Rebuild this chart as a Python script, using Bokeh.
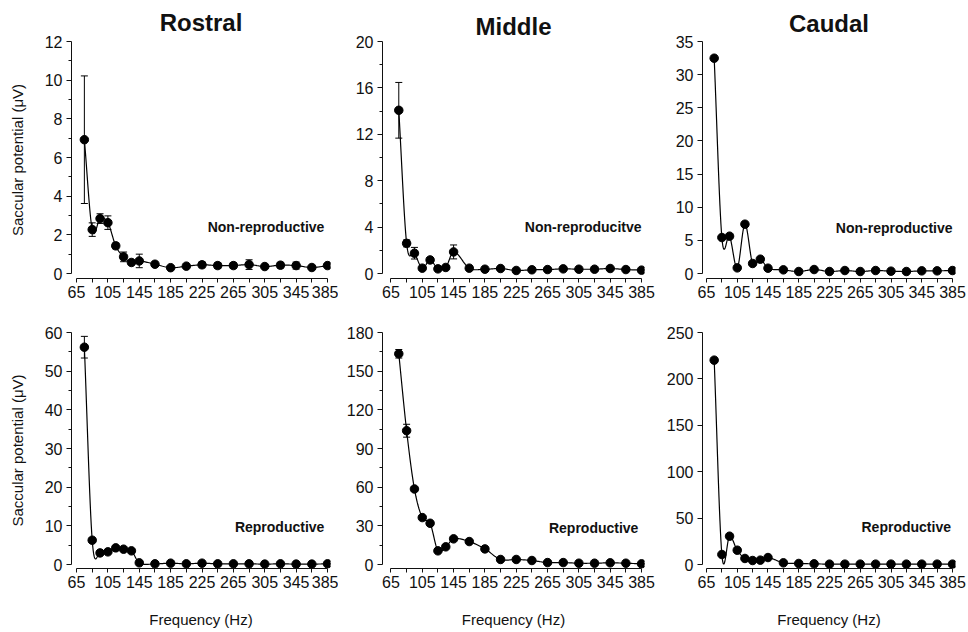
import numpy as np
from bokeh.plotting import figure
from bokeh.layouts import column, row
from bokeh.models import FixedTicker, Whisker, ColumnDataSource, Label, TeeHead, Range1d
from bokeh.embed import file_html
from bokeh.resources import INLINE

# ---------------- data ----------------
freq = [75, 85, 95, 105, 115, 125, 135, 145, 165, 185, 205, 225, 245, 265, 285, 305, 325, 345, 365, 385]

rostral_nr = [6.92, 2.27, 2.84, 2.63, 1.43, 0.86, 0.57, 0.65, 0.48, 0.30, 0.38, 0.45, 0.41, 0.41, 0.46, 0.36, 0.43, 0.41, 0.31, 0.41]
rostral_nr_se = [3.30, 0.35, 0.25, 0.35, 0.15, 0.25, 0.12, 0.35, 0.12, 0.10, 0.05, 0.15, 0.15, 0.15, 0.25, 0.05, 0.15, 0.18, 0.05, 0.08]

middle_nr = [14.07, 2.60, 1.75, 0.46, 1.17, 0.40, 0.52, 1.86, 0.46, 0.37, 0.43, 0.26, 0.32, 0.34, 0.40, 0.37, 0.37, 0.43, 0.34, 0.29]
middle_nr_se = [2.40, 0.30, 0.50, 0.10, 0.20, 0.10, 0.10, 0.60, 0.10, 0.05, 0.05, 0.05, 0.05, 0.05, 0.05, 0.05, 0.05, 0.05, 0.05, 0.05]

caudal_nr = [32.48, 5.43, 5.63, 0.85, 7.44, 1.51, 2.16, 0.80, 0.55, 0.30, 0.60, 0.30, 0.45, 0.30, 0.45, 0.35, 0.30, 0.40, 0.40, 0.45]
caudal_nr_se = [0] * 20

rostral_r = [56.2, 6.28, 3.00, 3.27, 4.30, 3.96, 3.53, 0.43, 0.17, 0.34, 0.17, 0.34, 0.17, 0.17, 0.17, 0.10, 0.17, 0.10, 0.10, 0.17]
rostral_r_se = [2.8, 0.5, 0.4, 0.4, 0.4, 0.3, 0.3, 0.1, 0.05, 0.05, 0.05, 0.05, 0.05, 0.05, 0.05, 0.05, 0.05, 0.05, 0.05, 0.05]

middle_r = [163.5, 103.8, 58.6, 36.4, 32.0, 10.6, 13.7, 19.9, 17.8, 12.1, 3.9, 3.9, 3.1, 1.5, 1.5, 1.0, 1.0, 1.3, 1.0, 0.5]
middle_r_se = [3.3, 5.0, 1.5, 1.0, 1.0, 1.0, 1.0, 1.0, 1.0, 1.0, 0.5, 0.5, 0.5, 0.3, 0.3, 0.2, 0.2, 0.2, 0.2, 0.1]

caudal_r = [220.2, 10.8, 30.5, 15.4, 6.5, 4.3, 4.7, 7.5, 1.8, 1.1, 0.7, 0.4, 0.4, 0.4, 0.4, 0.4, 0.4, 0.4, 0.4, 0.4]
caudal_r_se = [0] * 20

x_major = [65, 105, 145, 185, 225, 265, 305, 345, 385]
x_minor = [85, 125, 165, 205, 245, 285, 325, 365]

titles = ["Rostral", "Middle", "Caudal"]
notes_top = ["Non-reproductive", "Non-reproducitve", "Non-reproductive"]
notes_bottom = ["Reproductive", "Reproductive", "Reproductive"]

FONT = "Liberation Sans"


def smooth(xs, ys, n=16):
    """Cubic Hermite (Catmull-Rom style) curve through the data points for the connecting line."""
    xs = np.asarray(xs, float)
    ys = np.asarray(ys, float)
    m = np.zeros_like(ys)
    m[0] = (ys[1] - ys[0]) / (xs[1] - xs[0])
    m[-1] = (ys[-1] - ys[-2]) / (xs[-1] - xs[-2])
    m[1:-1] = (ys[2:] - ys[:-2]) / (xs[2:] - xs[:-2])
    ox, oy = [], []
    for i in range(len(xs) - 1):
        h = xs[i + 1] - xs[i]
        t = np.linspace(0, 1, n, endpoint=False)
        h00 = 2 * t**3 - 3 * t**2 + 1
        h10 = t**3 - 2 * t**2 + t
        h01 = -2 * t**3 + 3 * t**2
        h11 = t**3 - t**2
        ox.extend(xs[i] + t * h)
        oy.extend(h00 * ys[i] + h10 * h * m[i] + h01 * ys[i + 1] + h11 * h * m[i + 1])
    ox.append(xs[-1])
    oy.append(ys[-1])
    return ox, oy


# column geometry: (fig width, border left, border right, x_start, x_end)
cols = [
    (338, 71, 8, 58.6, 388.8),
    (320, 44, 14, 54.2, 388.8),
    (309, 44, 12, 59.8, 388.9),
]


def panel(ci, top, ys, se, ymax, ystep, yminor_step, note, note_x, note_y, title_standoff=6):
    width, bl, br, xs0, xs1 = cols[ci]
    if top:
        height, bt, bb = 306, 41, 28
        y0 = -5 / 232 * ymax
    else:
        height, bt, bb = 324, 26, 62
        y0 = -4 / 232 * ymax
    p = figure(width=width, height=height, output_backend="svg", toolbar_location=None,
               x_range=Range1d(xs0, xs1), y_range=Range1d(y0, ymax),
               min_border_left=bl, min_border_right=br, min_border_top=bt, min_border_bottom=bb,
               title=titles[ci] if top else None)
    p.outline_line_color = None
    p.grid.visible = False
    p.background_fill_color = "white"
    p.border_fill_color = "white"

    if top:
        p.title.text_font = FONT
        p.title.text_font_size = "24px"
        p.title.text_font_style = "bold"
        p.title.align = "center"
        p.title.text_color = "#111111"
        p.title.standoff = title_standoff

    # axes
    ymaj = list(np.arange(0, ymax + 1e-9, ystep))
    ymin = [] if yminor_step is None else [v for v in np.arange(0, ymax + 1e-9, yminor_step) if all(abs(v - q) > 1e-9 for q in ymaj)]
    p.yaxis.ticker = FixedTicker(ticks=ymaj, minor_ticks=ymin)
    p.yaxis.bounds = (0, ymax)
    p.xaxis.ticker = FixedTicker(ticks=x_major, minor_ticks=x_minor)
    p.xaxis.bounds = (65, 385)
    for ax in (p.xaxis[0], p.yaxis[0]):
        ax.axis_line_color = "#111111"
        ax.axis_line_width = 1
        ax.major_tick_line_color = "#111111"
        ax.minor_tick_line_color = "#111111"
        ax.major_tick_in = 0
        ax.minor_tick_in = 0
        ax.major_label_text_font = FONT
        ax.major_label_text_font_size = "16px"
        ax.major_label_text_color = "#111111"
        ax.axis_label_text_font = FONT
        ax.axis_label_text_font_size = "15px"
        ax.axis_label_text_font_style = "normal"
        ax.axis_label_text_color = "#111111"
    p.yaxis.major_tick_out = 5
    p.yaxis.minor_tick_out = 3
    p.yaxis.major_label_standoff = 4
    p.xaxis.major_tick_out = 4
    p.xaxis.minor_tick_out = 4
    p.xaxis.major_label_standoff = 3
    if ci == 0:
        p.yaxis.axis_label = "Saccular potential (μV)"
        p.yaxis.axis_label_standoff = 16
    if not top:
        p.xaxis.axis_label = "Frequency (Hz)"
        p.xaxis.axis_label_standoff = 20

    # line
    sx, sy = smooth(freq, ys)
    p.line(sx, sy, line_color="black", line_width=1.2)

    # error bars
    idx = [i for i, e in enumerate(se) if e > 0]
    if idx:
        src = ColumnDataSource(dict(x=[freq[i] for i in idx],
                                    upper=[ys[i] + se[i] for i in idx],
                                    lower=[ys[i] - se[i] for i in idx]))
        w = Whisker(base="x", upper="upper", lower="lower", source=src,
                    line_color="black", line_width=1,
                    upper_head=TeeHead(size=7, line_color="black", line_width=1),
                    lower_head=TeeHead(size=7, line_color="black", line_width=1))
        p.add_layout(w)

    p.scatter(freq, ys, size=8.5, fill_color="black", line_color="black")

    p.add_layout(Label(x=note_x, y=note_y, text=note, text_align="right", text_baseline="middle",
                       text_font=FONT, text_font_size="14px", text_font_style="bold",
                       text_color="#111111"))
    return p


p1 = panel(0, True, rostral_nr, rostral_nr_se, 12, 2, 1, notes_top[0], 381, 2.38, title_standoff=12)
p2 = panel(1, True, middle_nr, middle_nr_se, 20, 4, 2, notes_top[1], 385, 4.05, title_standoff=3)
p3 = panel(2, True, caudal_nr, caudal_nr_se, 35, 5, None, notes_top[2], 385, 6.9, title_standoff=10)
p4 = panel(0, False, rostral_r, rostral_r_se, 60, 10, 5, notes_bottom[0], 381, 9.6)
p5 = panel(1, False, middle_r, middle_r_se, 180, 30, 15, notes_bottom[1], 381, 28.7)
p6 = panel(2, False, caudal_r, caudal_r_se, 250, 50, None, notes_bottom[2], 383, 39.9)

layout = column(row(p1, p2, p3, spacing=0), row(p4, p5, p6, spacing=0), spacing=0)

open("out.html", "w").write(file_html(layout, INLINE))
